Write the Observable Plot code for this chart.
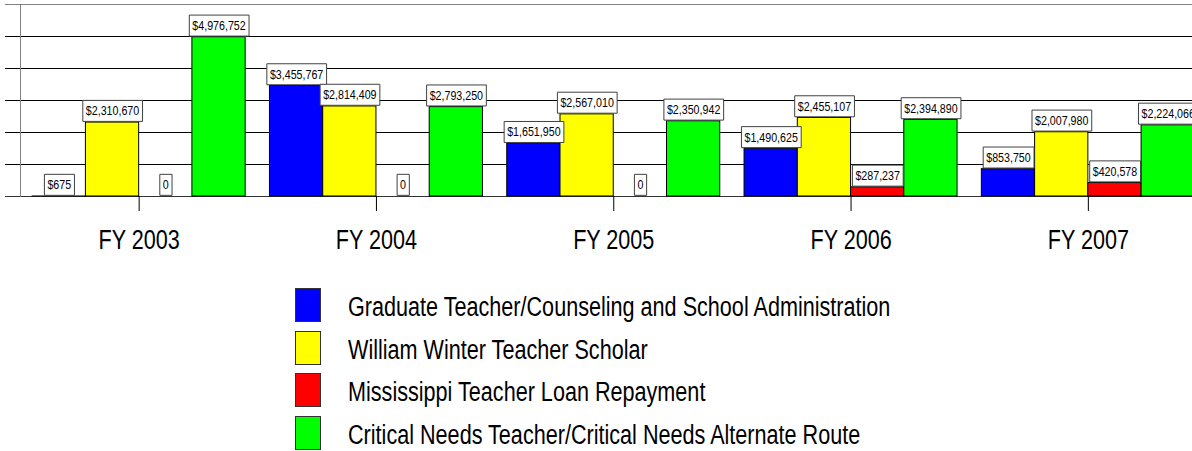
<!DOCTYPE html>
<html><head><meta charset="utf-8">
<script src="https://cdn.jsdelivr.net/npm/d3@7"></script>
<script src="https://cdn.jsdelivr.net/npm/@observablehq/plot@0.6"></script>
<style>
body{margin:0;background:#fff;width:1192px;height:451px;overflow:hidden;font-family:"Liberation Sans",Arial,sans-serif;}
#chart{position:relative;width:1192px;height:270px;}
#chart svg{position:absolute;left:0;top:0;}
#legend{padding-top:18px;padding-left:295px;}
.item{display:flex;align-items:flex-start;height:42.67px;}
.sw{box-sizing:border-box;width:26px;height:34px;border:1px solid #333;flex:none;}
.lab{margin-left:27px;font-size:27px;line-height:34px;color:#000;position:relative;top:2px;white-space:nowrap;transform:scaleX(0.80);transform-origin:left center;}
</style></head><body><div id="chart"></div><div id="legend"></div>
<script>
const years = ["FY 2003", "FY 2004", "FY 2005", "FY 2006", "FY 2007"];
const series = [
  "Graduate Teacher/Counseling and School Administration",
  "William Winter Teacher Scholar",
  "Mississippi Teacher Loan Repayment",
  "Critical Needs Teacher/Critical Needs Alternate Route"
];
const colors = ["#0000FF", "#FFFF00", "#FF0000", "#00FF00"];
const graduate = [675, 3455767, 1651950, 1490625, 853750];
const winter = [2310670, 2814409, 2567010, 2455107, 2007980];
const loan = [0, 0, 0, 287237, 420578];
const critical = [4976752, 2793250, 2350942, 2394890, 2224066];
const yTicks = [0, 1000000, 2000000, 3000000, 4000000, 5000000, 6000000];

const values = [graduate, winter, loan, critical];
const data = years.flatMap((yr, i) => series.map((s, j) => ({year: yr, series: s, value: values[j][i]})));
const fmt = v => v === 0 ? "0" : "$" + d3.format(",")(v);
const font = '"Liberation Sans",Arial,sans-serif';
const yDomain = [yTicks[0], yTicks[yTicks.length - 1]];
const dims = {width: 1192, height: 270, marginTop: 4, marginBottom: 74, marginLeft: 5, marginRight: 0};

// background: gridlines and axis lines spanning the whole frame
const bg = Plot.plot({
  ...dims,
  style: {fontFamily: font, background: "#fff"},
  y: {domain: yDomain, axis: null},
  marks: [
    Plot.ruleY(yTicks.slice(1, -1), {stroke: "#000"}),
    Plot.ruleY(yTicks.slice(-1), {stroke: "#808080"}),
    Plot.ruleY([yTicks[0]], {stroke: "#333"}),
    Plot.frame({anchor: "left", insetLeft: 15, stroke: "#808080"})
  ]
});

// foreground: grouped bars, value labels, category axis
const fg = Plot.plot({
  ...dims,
  style: {fontFamily: font, fontSize: "27px", color: "#000", background: "transparent", overflow: "hidden"},
  fx: {domain: years, range: [20, 1206.5], paddingInner: 0.1024, paddingOuter: 0.0512, round: false, label: null, axis: "bottom", tickSize: 15, tickPadding: 18},
  x: {domain: series, padding: 0, axis: null, round: false},
  y: {domain: yDomain, axis: null},
  color: {domain: series, range: colors},
  marks: [
    Plot.barY(data, {fx: "year", x: "series", y: "value", fill: "series", stroke: "#000", strokeWidth: 1}),
    Plot.text(data, {fx: "year", x: "series", y: "value", text: d => fmt(d.value), dy: -11, lineAnchor: "middle", fontSize: 12, fill: "#000"})
  ]
});
const chart = document.getElementById("chart");
chart.append(bg, fg);

// condensed look of the original's narrow font
const sxAxis = 0.8, sxLabel = 0.89;
fg.querySelectorAll('g[aria-label^="fx-axis"] text').forEach(t => {
  t.setAttribute("transform", (t.getAttribute("transform") || "") + ` scale(${sxAxis},1)`);
});

// white boxed value labels
fg.querySelectorAll('g[aria-label="text"] text').forEach(t => {
  const b = t.getBBox();
  const tr = (t.getAttribute("transform") || "") + ` scale(${sxLabel},1)`;
  t.setAttribute("transform", tr);
  const pad = 3 / sxLabel;
  const r = document.createElementNS("http://www.w3.org/2000/svg", "rect");
  const cy = b.y + b.height / 2;
  r.setAttribute("x", b.x - pad);
  r.setAttribute("width", b.width + 2 * pad);
  r.setAttribute("y", cy - 11);
  r.setAttribute("height", 21);
  r.setAttribute("fill", "#fff");
  r.setAttribute("stroke", "#404040");
  r.setAttribute("vector-effect", "non-scaling-stroke");
  r.setAttribute("transform", tr);
  t.parentNode.insertBefore(r, t);
});

const legend = document.getElementById("legend");
series.forEach((s, j) => {
  const item = document.createElement("div");
  item.className = "item";
  const sw = document.createElement("div");
  sw.className = "sw";
  sw.style.background = colors[j];
  const lab = document.createElement("div");
  lab.className = "lab";
  lab.textContent = s;
  item.append(sw, lab);
  legend.append(item);
});
</script></body></html>
